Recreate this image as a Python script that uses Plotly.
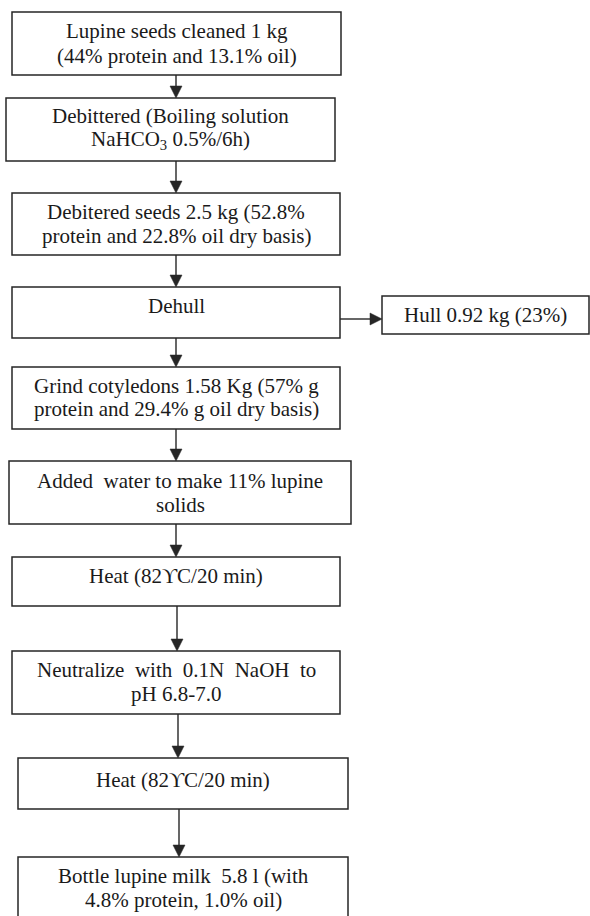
import plotly.graph_objects as go

# ---- content (flowchart steps) ----
step_lines = [
    ["Lupine seeds cleaned 1 kg", "(44% protein and 13.1% oil)"],
    ["Debittered (Boiling solution", "NaHCO<sub>3</sub> 0.5%/6h)"],
    ["Debitered seeds 2.5 kg (52.8%", "protein and 22.8% oil dry basis)"],
    ["Dehull"],
    ["Grind cotyledons 1.58 Kg (57% g", "protein and 29.4% g oil dry basis)"],
    ["Added\u00a0 water to make 11% lupine", "solids"],
    ["Heat (82\u03d2C/20 min)"],
    ["Neutralize\u00a0 with\u00a0 0.1N\u00a0 NaOH\u00a0 to", "pH 6.8-7.0"],
    ["Heat (82\u03d2C/20 min)"],
    ["Bottle lupine milk\u00a0 5.8 l (with", "4.8% protein, 1.0% oil)"],
]
side_lines = ["Hull 0.92 kg (23%)"]

# ---- layout geometry (pixels) ----
box_x0 = [12, 6, 12, 12, 12, 9, 12, 12, 18, 18]
box_x1 = [341, 335, 340, 340, 340, 351, 340, 340, 348, 348]
box_y0 = [12, 98, 193, 287, 367, 461, 557, 651, 758, 857]
box_y1 = [75, 161, 255, 338, 429, 524, 606, 714, 809, 917]
text_y = [[31, 56], [116, 140], [212, 236], [306], [386, 409], [481, 505],
          [576], [670, 694], [780], [876, 900]]
arrow_x = [176, 176, 176, 176, 176, 176, 177, 178, 179]

side_box = (382, 296, 589, 334)
side_text_y = 315
side_arrow_y = 319

LINE = "#262626"
FONT = dict(family="Liberation Serif", size=21, color="#1a1a1a")

fig = go.Figure()
shapes = []
annotations = []

for i, lines in enumerate(step_lines):
    shapes.append(dict(type="rect", xref="x", yref="y",
                       x0=box_x0[i], x1=box_x1[i], y0=box_y0[i], y1=box_y1[i],
                       line=dict(color=LINE, width=1.5), fillcolor="white"))
    cx = (box_x0[i] + box_x1[i]) / 2
    for ln, ty in zip(lines, text_y[i]):
        annotations.append(dict(x=cx, y=ty, xref="x", yref="y", text=ln,
                                showarrow=False, font=FONT,
                                xanchor="center", yanchor="middle"))

# vertical arrows
HEAD_L, HEAD_W = 12, 6
for i, ax in enumerate(arrow_x):
    ya = box_y1[i]
    yb = box_y0[i + 1]
    shapes.append(dict(type="line", xref="x", yref="y", x0=ax, x1=ax,
                       y0=ya, y1=yb - HEAD_L + 1, line=dict(color=LINE, width=1.4)))
    shapes.append(dict(type="path", xref="x", yref="y",
                       path=f"M {ax - HEAD_W} {yb - HEAD_L} L {ax + HEAD_W} {yb - HEAD_L} L {ax} {yb} Z",
                       fillcolor=LINE, line=dict(color=LINE, width=0.5)))

# side box (hull)
sx0, sy0, sx1, sy1 = side_box
shapes.append(dict(type="rect", xref="x", yref="y", x0=sx0, x1=sx1, y0=sy0, y1=sy1,
                   line=dict(color=LINE, width=1.5), fillcolor="white"))
annotations.append(dict(x=(sx0 + sx1) / 2, y=side_text_y, xref="x", yref="y",
                        text=side_lines[0], showarrow=False, font=FONT,
                        xanchor="center", yanchor="middle"))
hx0 = box_x1[3]
shapes.append(dict(type="line", xref="x", yref="y", x0=hx0, x1=sx0 - HEAD_L + 1,
                   y0=side_arrow_y, y1=side_arrow_y, line=dict(color=LINE, width=1.4)))
shapes.append(dict(type="path", xref="x", yref="y",
                   path=f"M {sx0 - HEAD_L} {side_arrow_y - HEAD_W} L {sx0 - HEAD_L} {side_arrow_y + HEAD_W} L {sx0} {side_arrow_y} Z",
                   fillcolor=LINE, line=dict(color=LINE, width=0.5)))

fig.update_layout(
    width=590, height=916,
    margin=dict(l=0, r=0, t=0, b=0),
    paper_bgcolor="white", plot_bgcolor="white",
    xaxis=dict(range=[0, 590], visible=False, fixedrange=True),
    yaxis=dict(range=[916, 0], visible=False, fixedrange=True),
    shapes=shapes, annotations=annotations, showlegend=False,
)

fig.write_html(
    "out.html",
    config=dict(displayModeBar=False),
    post_script="document.body.style.margin='0';document.body.style.overflow='hidden';",
)
